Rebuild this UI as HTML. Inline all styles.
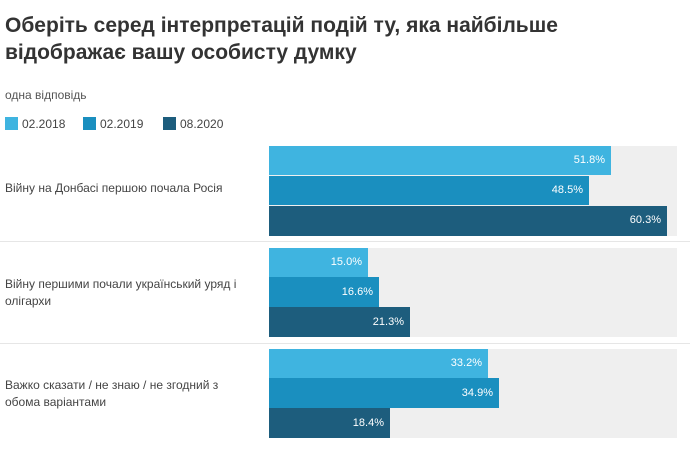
<html><head><style>
body{margin:0;width:690px;height:457px;background:#fff;font-family:"Liberation Sans",sans-serif;position:relative;overflow:hidden}
.t{position:absolute;left:5px;top:12px;font-size:21px;font-weight:bold;color:#333;line-height:27px}
.s{position:absolute;left:5px;top:88px;font-size:12px;color:#555}
.lg{position:absolute;top:117px;font-size:12px;color:#444}
.lg i{display:inline-block;width:13px;height:13px;vertical-align:-2px;margin-right:4px}
.bg{position:absolute;left:269px;width:408px;background:#efefef}
.b{position:absolute;left:269px;height:29px;color:#fff;font-size:11px;text-align:right;box-sizing:border-box;padding-right:6px;line-height:29px}
.c1{background:#3fb4e0}.c2{background:#1a8fbf}.c3{background:#1d5d7d}
.lab{position:absolute;left:5px;font-size:12px;color:#444;line-height:17px;width:252px}
.sep{position:absolute;left:0;width:690px;height:1px;background:#e6e6e6}
</style></head><body>
<div class="t">Оберіть серед інтерпретацій подій ту, яка найбільше<br>відображає вашу особисту думку</div>
<div class="s">одна відповідь</div>
<div class="lg" style="left:5px"><i class="c1"></i>02.2018</div>
<div class="lg" style="left:83px"><i class="c2"></i>02.2019</div>
<div class="lg" style="left:163px"><i class="c3"></i>08.2020</div>

<div class="bg" style="top:146px;height:90px"></div>
<div class="b c1" style="top:146px;width:342px">51.8%</div>
<div class="b c2" style="top:176px;width:320px">48.5%</div>
<div class="b c3" style="top:206px;width:398px;height:30px">60.3%</div>
<div class="lab" style="top:180px">Війну на Донбасі першою почала Росія</div>
<div class="sep" style="top:241px"></div>

<div class="bg" style="top:248px;height:89px"></div>
<div class="b c1" style="top:248px;width:99px">15.0%</div>
<div class="b c2" style="top:277px;width:110px;height:30px;line-height:30px">16.6%</div>
<div class="b c3" style="top:307px;width:141px;height:30px;line-height:30px">21.3%</div>
<div class="lab" style="top:276px">Війну першими почали український уряд і олігархи</div>
<div class="sep" style="top:343px"></div>

<div class="bg" style="top:349px;height:89px"></div>
<div class="b c1" style="top:349px;width:219px">33.2%</div>
<div class="b c2" style="top:378px;width:230px;height:30px;line-height:30px">34.9%</div>
<div class="b c3" style="top:408px;width:121px;height:30px;line-height:30px">18.4%</div>
<div class="lab" style="top:377px">Важко сказати / не знаю / не згодний з<br>обома варіантами</div>
</body></html>
